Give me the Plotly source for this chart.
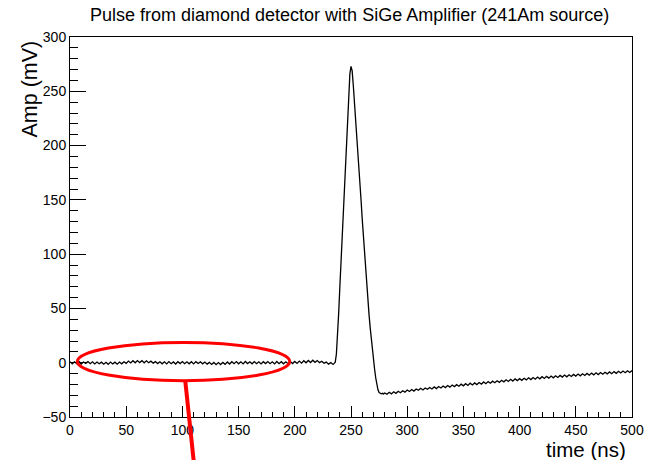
import plotly.graph_objects as go

# ---- data ----
baseline_ns = list(range(0, 236, 2))
baseline_mv = [
    1.0, -1.0, 0.9, -0.8, 1.1, -1.2, 0.7, -0.6, 1.0, -0.9,
    0.8, -1.1, 0.6, -0.9, 0.5, -1.3, 0.4, -1.5, 0.6, -1.2,
    0.5, -1.4, 0.6, -1.0, 0.9, -0.6, 1.5, -0.2, 1.8, -0.1,
    2.0, 0.1, 1.9, -0.1, 1.7, 0.0, 1.4, -0.4, 1.0, -0.8,
    0.9, -1.0, 0.8, -1.1, 1.0, -0.9, 0.7, -1.2, 0.9, -0.8,
    1.1, -0.9, 0.8, -1.0, 0.9, -1.1, 1.0, -0.7, 0.8, -1.0,
    0.6, -1.3, 0.3, -1.6, 0.2, -1.8, 0.1, -1.7, 0.3, -1.5,
    0.7, -1.2, 0.9, -0.9, 1.0, -1.0, 0.8, -1.1, 1.1, -0.8,
    0.9, -1.0, 1.0, -0.9, 0.8, -1.1, 0.9, -0.8, 1.0, -0.9,
    0.8, -1.1, 1.1, -0.9, 0.9, -1.0, 0.8, -0.9, 1.0, -0.8,
    1.2, -0.6, 1.5, -0.4, 1.8, -0.1, 2.1, 0.2, 2.3, 0.4,
    2.0, 0.1, 1.4, -0.4, 0.6, -1.3, 0.1, -1.6,
]
pulse_ns = list(range(235, 281))
pulse_mv = [
    -0.6, 0.5, 8, 24, 45, 68, 90, 112, 136, 160,
    185, 210, 232, 252, 266, 273, 269, 256, 242, 228,
    213, 198, 182, 166, 149, 132, 116, 100, 85, 70,
    57, 45, 33, 22, 12, 3, -6, -14, -20, -25,
    -27.5, -28.3, -28.6, -28.2, -28.7, -27.9,
]
tail_ns = list(range(282, 501, 2))
tail_mv = [
    -29.0, -27.2, -28.7, -26.8, -28.2, -26.3, -27.6, -25.8, -27.1, -25.2,
    -26.5, -24.7, -26.1, -24.2, -25.4, -23.6, -25.1, -23.3, -24.5, -22.8,
    -24.2, -22.3, -23.8, -21.9, -23.3, -21.5, -22.9, -21.0, -22.5, -20.6,
    -22.0, -20.2, -21.7, -19.8, -21.3, -19.3, -20.9, -18.9, -20.5, -18.6,
    -20.1, -18.2, -19.7, -17.7, -19.3, -17.4, -18.9, -17.0, -18.4, -16.6,
    -18.1, -16.2, -17.6, -15.7, -17.3, -15.3, -16.9, -14.9, -16.5, -14.7,
    -16.2, -14.3, -15.8, -13.9, -15.5, -13.6, -15.2, -13.2, -14.8, -12.9,
    -14.5, -12.6, -14.2, -12.3, -13.9, -12.0, -13.6, -11.7, -13.2, -11.4,
    -13.0, -11.1, -12.7, -10.8, -12.3, -10.5, -12.1, -10.2, -11.7, -9.9,
    -11.5, -9.6, -11.2, -9.3, -10.9, -9.0, -10.6, -8.8, -10.3, -8.5,
    -10.1, -8.2, -9.8, -7.9, -9.5, -7.7, -9.2, -7.4, -9.0, -7.2,
]
time_ns = baseline_ns + pulse_ns + tail_ns
amp_mv = baseline_mv + pulse_mv + tail_mv

x_range = [0, 500]
y_range = [-50, 300]

# highlight ellipse (data units) and pointer line
ellipse_x = [6.5, 195.5]
ellipse_y = [-16.5, 18.7]
pointer_start = (102.5, -16.3)   # (ns, mV)
pointer_end = (110.0, -90.0)     # (ns, mV), extends below the frame

FONT = "Liberation Sans, Arial, Helvetica, sans-serif"

fig = go.Figure()
fig.add_trace(go.Scatter(x=time_ns, y=amp_mv, mode="lines",
                         line=dict(color="black", width=1.3),
                         showlegend=False, hoverinfo="skip"))

def px(t):
    return (t - x_range[0]) / (x_range[1] - x_range[0])

def py(v):
    return (v - y_range[0]) / (y_range[1] - y_range[0])

fig.add_shape(type="circle", xref="x", yref="y",
              x0=ellipse_x[0], x1=ellipse_x[1], y0=ellipse_y[0], y1=ellipse_y[1],
              line=dict(color="#ff0000", width=3))
fig.add_shape(type="line", xref="paper", yref="paper",
              x0=px(pointer_start[0]), y0=py(pointer_start[1]),
              x1=px(pointer_end[0]), y1=py(pointer_end[1]),
              line=dict(color="#ff0000", width=4))

axis_common = dict(showline=True, mirror=True, linecolor="black", linewidth=1,
                   showgrid=False, zeroline=False, ticks="inside",
                   tickcolor="black", tickwidth=1, automargin=False,
                   tickfont=dict(family=FONT, size=14, color="black"))

fig.update_xaxes(range=x_range, dtick=50, tick0=0, ticklen=11,
                 minor=dict(ticks="inside", dtick=10, ticklen=5.5,
                            tickcolor="black", showgrid=False),
                 **axis_common)
fig.update_yaxes(range=y_range, dtick=50, tick0=0, ticklen=16,
                 minor=dict(ticks="inside", dtick=10, ticklen=8,
                            tickcolor="black", showgrid=False),
                 **axis_common)

fig.update_layout(
    width=646, height=460, autosize=False,
    margin=dict(l=70, r=14, t=37, b=43, pad=0),
    paper_bgcolor="white", plot_bgcolor="white",
    font=dict(family=FONT, color="black"),
    annotations=[
        dict(text="Pulse from diamond detector with SiGe Amplifier (241Am source)",
             xref="paper", yref="paper", x=0.498, y=1.0, yshift=22,
             showarrow=False, font=dict(size=18, family=FONT),
             xanchor="center", yanchor="middle"),
        dict(text="Amp (mV)", xref="paper", yref="paper", x=0, xshift=-41,
             y=1.0, yshift=-2, textangle=-90, showarrow=False,
             font=dict(size=21.5, family=FONT), xanchor="center", yanchor="top"),
        dict(text="time (ns)", xref="paper", yref="paper", x=1.0, xshift=-4,
             y=0, yshift=-32, showarrow=False,
             font=dict(size=20.5, family=FONT), xanchor="right", yanchor="middle"),
    ],
)

fig.write_html("out.html", config={"responsive": False})
